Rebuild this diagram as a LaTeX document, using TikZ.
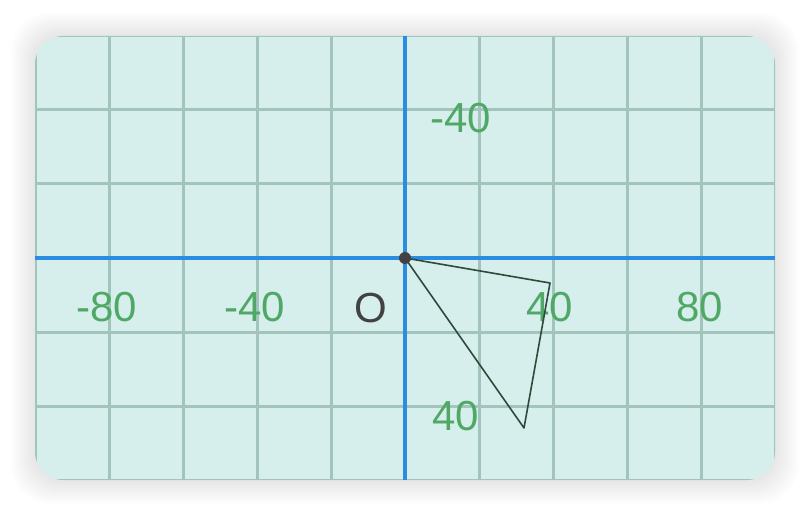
\documentclass[tikz,border=0pt]{standalone}
\usepackage{fontspec}
\setmainfont{Liberation Sans}
\usepackage{xcolor}
\usepackage{tikz}

\definecolor{cardfill}{HTML}{D6EEEC}
\definecolor{gridline}{HTML}{A3C4BB}
\definecolor{axisblue}{HTML}{2A8DE2}
\definecolor{labelgreen}{HTML}{4FA865}
\definecolor{darkink}{HTML}{424242}
\definecolor{edgeink}{HTML}{2F4A3B}

\begin{document}
\begin{tikzpicture}[
    x=1pt, y=-1pt,
    gridline/.style={draw=gridline, line width=3pt},
    axisline/.style={draw=axisblue, line width=4.5pt},
    ticklabel/.style={text=labelgreen, font=\fontsize{42}{42}\selectfont, inner sep=0pt},
    edge/.style={draw=edgeink, line width=1.6pt, line join=round}
]
    \useasboundingbox (0,0) rectangle (812,516);

    % soft shadow round the card
    \foreach \s in {1,...,12}
        \fill[black, opacity=0.009, rounded corners=28+\s] (35-2*\s,36-2*\s) rectangle (775+2*\s,480+2*\s);
    \fill[cardfill, rounded corners=28] (35,36) rectangle (775,480);

    \begin{scope}
        \clip[rounded corners=28] (35,36) rectangle (775,480);
        \foreach \i in {0,...,10}
            \draw[gridline] (35+74*\i,36) -- (35+74*\i,480);
        \foreach \j in {0,...,6}
            \draw[gridline] (35,36+74*\j) -- (775,36+74*\j);
        \draw[axisline] (35,258) -- (775,258);
        \draw[axisline] (405,36) -- (405,480);
    \end{scope}

    % axis labels
    \foreach \v/\px in {-80/107, -40/255, 40/550, 80/700}
        \node[ticklabel] (x\v) at (\px,307) {\v};
    \node[ticklabel, anchor=west] (ym40) at (430,118) {-40};
    \node[ticklabel, anchor=west] (yp40) at (432,416) {40};
    \node[ticklabel, text=darkink] (orig) at (371,308) {O};

    % triangle
    \coordinate (o) at (405,258);
    \coordinate (a) at (550,283);
    \coordinate (b) at (524,428);
    \draw[edge] (o) -- (a) -- (b) -- cycle;
    \fill[darkink] (o) circle (6);
\end{tikzpicture}
\end{document}
